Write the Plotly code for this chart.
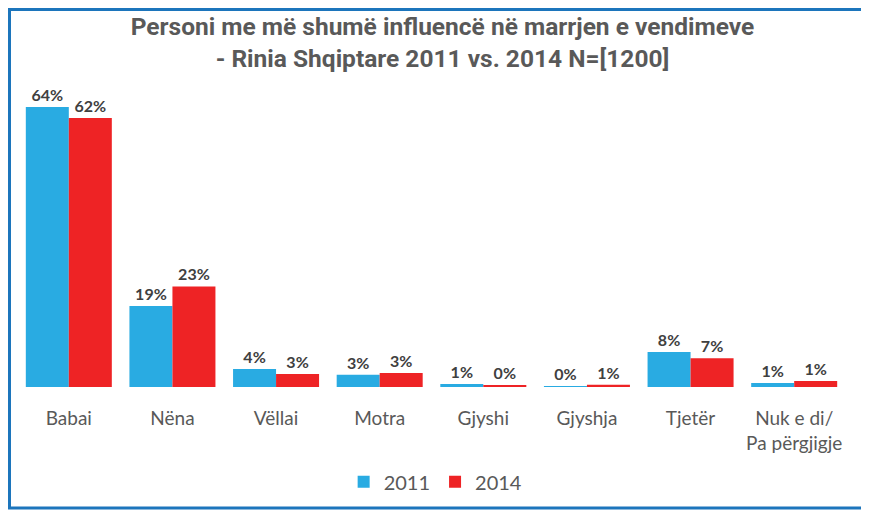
import plotly.graph_objects as go

categories = ["Babai", "Nëna", "Vëllai", "Motra", "Gjyshi", "Gjyshja", "Tjetër", "Nuk e di/<br>Pa përgjigje"]
values_2011 = [64, 18.5, 4.1, 2.8, 0.7, 0.2, 8, 0.9]
values_2014 = [61.5, 23, 3, 3.2, 0.3, 0.5, 6.6, 1.4]
labels_2011 = ["64%", "19%", "4%", "3%", "1%", "0%", "8%", "1%"]
labels_2014 = ["62%", "23%", "3%", "3%", "0%", "1%", "7%", "1%"]

W, H = 869, 511
ml, mr, mt, mb = 9, 31, 92, 132
pw, ph = W - ml - mr, H - mt - mb

fig = go.Figure()
fig.add_trace(go.Bar(name="2011", x=categories, y=values_2011, text=labels_2011,
                     marker_color="#29ABE2", textposition="outside", cliponaxis=False))
fig.add_trace(go.Bar(name="2014", x=categories, y=values_2014, text=labels_2014,
                     marker_color="#EE2325", textposition="outside", cliponaxis=False))

fig.update_traces(textfont=dict(family="Lato", size=16, color="#404040", weight="bold"),
                  marker_line_width=0)

# border around the chart (pixel positions on the page converted to paper units)
bx0, bx1, by0, by1 = 1.5, 858, 1.5, 500
fig.add_shape(type="rect", xref="paper", yref="paper",
              x0=(bx0 - ml) / pw, x1=(bx1 - ml) / pw,
              y0=1 - (by1 - mt) / ph, y1=1 - (by0 - mt) / ph,
              line=dict(color="#1C75BC", width=3), layer="above")

fig.update_layout(
    width=W, height=H,
    margin=dict(l=ml, r=mr, t=mt, b=mb, autoexpand=False),
    paper_bgcolor="white", plot_bgcolor="white",
    barmode="group", bargap=0.17, bargroupgap=0,
    title=dict(text="Personi me më shumë influencë në marrjen e vendimeve<br>- Rinia Shqiptare 2011 vs. 2014 N=[1200]",
               x=0.5, xanchor="center", y=0.947, yanchor="middle",
               font=dict(family="Roboto", size=24.5, color="#595959", weight="bold")),
    xaxis=dict(showline=False, ticks="", tickfont=dict(family="Lato", size=19, color="#595959"),
               showgrid=False, automargin=False, ticklabelstandoff=18),
    yaxis=dict(visible=False, range=[0, 65.6], showgrid=False, automargin=False),
    legend=dict(orientation="h", x=0.505, xanchor="center", y=-0.33, yanchor="middle",
                font=dict(family="Lato", size=20, color="#595959"), traceorder="normal",
                bgcolor="rgba(0,0,0,0)"),
    showlegend=True,
)

fig.write_html("out.html")
